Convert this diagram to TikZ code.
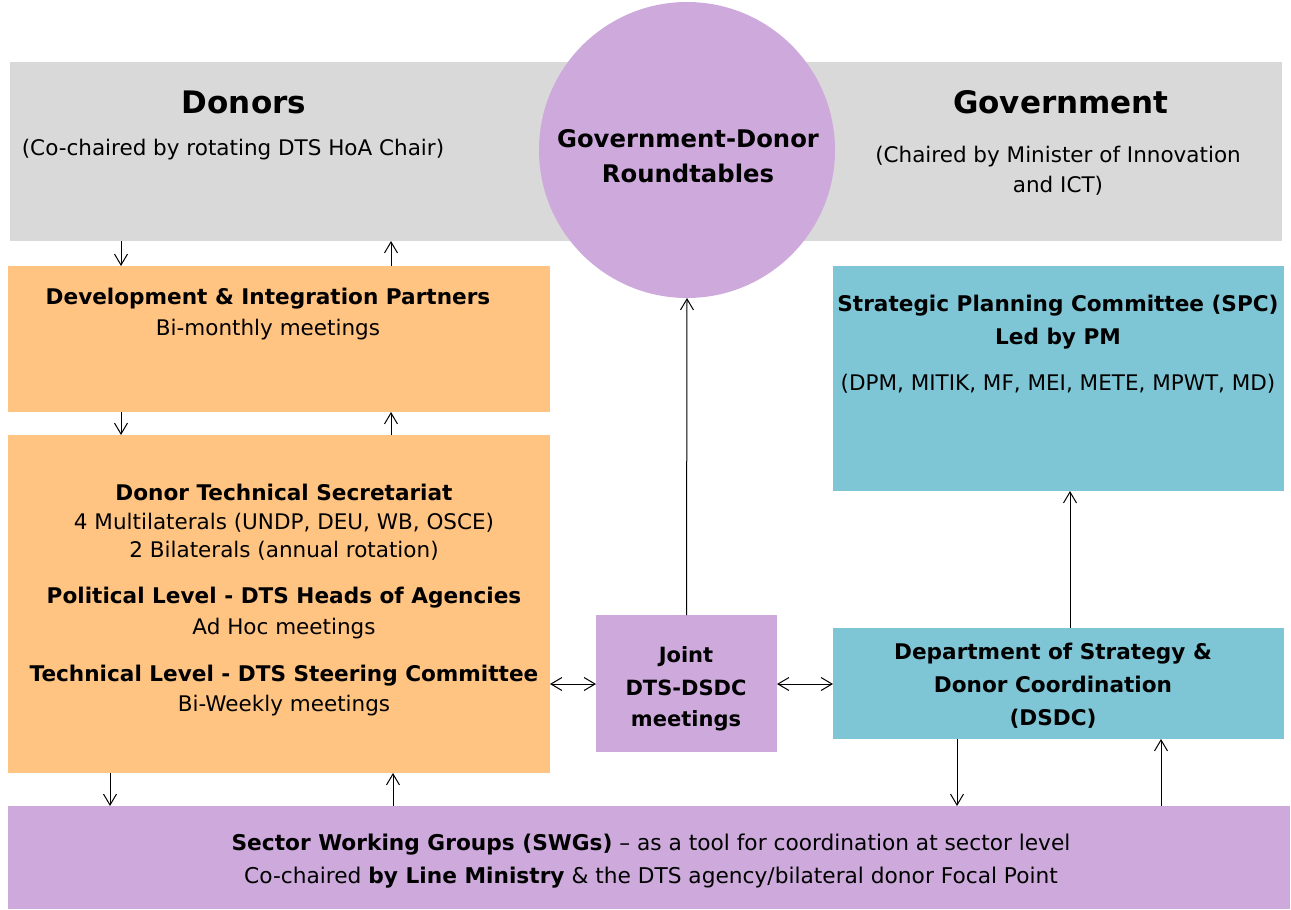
\documentclass[tikz,border=0pt]{standalone}
\usepackage{fontspec}
\setmainfont{DejaVu Sans}
\usetikzlibrary{arrows.meta}
\definecolor{greyband}{RGB}{217,217,217}
\definecolor{lilac}{RGB}{205,169,220}
\definecolor{apricot}{RGB}{255,195,130}
\definecolor{teal}{RGB}{126,198,214}
\begin{document}
\begin{tikzpicture}[x=1pt,y=-1pt,
  box/.style={inner sep=0pt, outer sep=0pt, draw=none},
  txt/.style={inner sep=0pt, font=\fontsize{21.5}{25}\selectfont},
  ttl/.style={inner sep=0pt, font=\fontsize{21.6}{25}\selectfont\bfseries},
  big/.style={inner sep=0pt, font=\fontsize{31}{36}\selectfont\bfseries},
  arr/.style={-{Straight Barb[length=11pt,width=13pt]}, line width=1pt},
  darr/.style={{Straight Barb[length=11pt,width=13pt]}-{Straight Barb[length=11pt,width=13pt]}, line width=1pt}]
\useasboundingbox (0,0) rectangle (1291,910);

% header band and the roundtable circle
\node[box, fill=greyband, minimum width=1272pt, minimum height=179pt] (band) at (646,151.5) {};
\node[box, circle, fill=lilac, minimum size=296pt] (round) at (687,150) {};
\node[ttl, font=\fontsize{24.3}{28}\selectfont\bfseries] (roundA) at (688,139) {Government-Donor};
\node[ttl, font=\fontsize{24.3}{28}\selectfont\bfseries] (roundB) at (688,173) {Roundtables};

\node[big] (donT) at (244,102) {Donors};
\node[txt] (donS) at (233,150) {(Co-chaired by rotating DTS HoA Chair)};
\node[big] (govT) at (1061,102) {Government};
\node[txt] (govS1) at (1058,157) {(Chaired by Minister of Innovation};
\node[txt] (govS2) at (1058,186) {and ICT)};

% donor side
\node[box, fill=apricot, minimum width=542pt, minimum height=146pt] (dip) at (279,339) {};
\node[ttl] (dipA) at (268,299) {Development \& Integration Partners};
\node[txt] (dipB) at (268,330) {Bi-monthly meetings};

\node[box, fill=apricot, minimum width=542pt, minimum height=338pt] (dts) at (279,604) {};
\node[ttl] (dtsA) at (284,492) {Donor Technical Secretariat};
\node[txt] (dtsB) at (284,523) {4 Multilaterals (UNDP, DEU, WB, OSCE)};
\node[txt] (dtsC) at (284,551) {2 Bilaterals (annual rotation)};
\node[ttl] (dtsD) at (284,598) {Political Level - DTS Heads of Agencies};
\node[txt] (dtsE) at (284,629) {Ad Hoc meetings};
\node[ttl] (dtsF) at (284,676) {Technical Level - DTS Steering Committee};
\node[txt] (dtsG) at (284,706) {Bi-Weekly meetings};

% joint meetings
\node[box, fill=lilac, minimum width=181pt, minimum height=137pt] (joint) at (686.5,683.5) {};
\node[ttl, font=\fontsize{21}{25}\selectfont\bfseries, anchor=base] (jointA) at (686,662) {Joint};
\node[ttl, font=\fontsize{21}{25}\selectfont\bfseries, anchor=base] (jointB) at (686,695) {DTS-DSDC};
\node[ttl, font=\fontsize{21}{25}\selectfont\bfseries, anchor=base] (jointC) at (686,726) {meetings};

% government side
\node[box, fill=teal, minimum width=451pt, minimum height=225pt] (spc) at (1058.5,378.5) {};
\node[ttl] (spcA) at (1058,306) {Strategic Planning Committee (SPC)};
\node[ttl] (spcB) at (1058,339) {Led by PM};
\node[txt] (spcC) at (1058,384) {(DPM, MITIK, MF, MEI, METE, MPWT, MD)};

\node[box, fill=teal, minimum width=451pt, minimum height=111pt] (dsdc) at (1058.5,683.5) {};
\node[ttl, anchor=base] (dsdcA) at (1053,659) {Department of Strategy \&};
\node[ttl, anchor=base] (dsdcB) at (1053,692) {Donor Coordination};
\node[ttl, anchor=base] (dsdcC) at (1053,725) {(DSDC)};

% sector working groups
\node[box, fill=lilac, minimum width=1282pt, minimum height=103pt] (swg) at (649,857.5) {};
\node[txt, font=\fontsize{21.7}{26}\selectfont] (swgA) at (651,845) {\textbf{Sector Working Groups (SWGs)} – as a tool for coordination at sector level};
\node[txt, font=\fontsize{21.7}{26}\selectfont] (swgB) at (651,878) {Co-chaired \textbf{by Line Ministry} \& the DTS agency/bilateral donor Focal Point};

% connectors
\draw[arr] (band.south -| 121,0) -- (dip.north -| 121,0);
\draw[arr] (dip.north -| 391,0) -- (band.south -| 391,0);
\draw[arr] (dip.south -| 121,0) -- (dts.north -| 121,0);
\draw[arr] (dts.north -| 391,0) -- (dip.south -| 391,0);
\draw[arr] (dts.south -| 110,0) -- (swg.north -| 110,0);
\draw[arr] (swg.north -| 393,0) -- (dts.south -| 393,0);
\draw[darr] (dts.east |- 0,684) -- (joint.west |- 0,684);
\draw[darr] (joint.east |- 0,684) -- (dsdc.west |- 0,684);
\draw[arr] (joint.north) -- (round.south);
\draw[arr] (dsdc.north -| 1070,0) -- (spc.south -| 1070,0);
\draw[arr] (dsdc.south -| 957,0) -- (swg.north -| 957,0);
\draw[arr] (swg.north -| 1161,0) -- (dsdc.south -| 1161,0);
\end{tikzpicture}
\end{document}
